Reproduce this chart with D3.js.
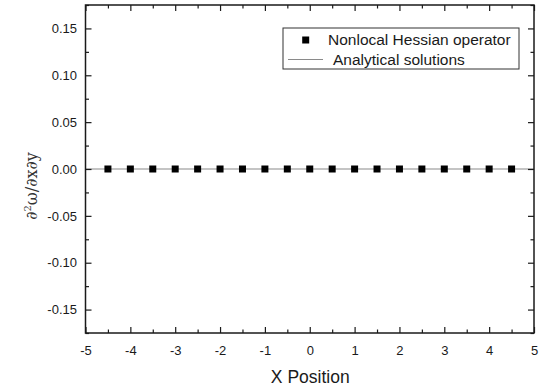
<!DOCTYPE html>
<html>
<head>
<meta charset="utf-8">
<script src="https://cdn.jsdelivr.net/npm/d3@7"></script>
<style>
  html, body { margin: 0; padding: 0; background: #fff; }
  svg { display: block; font-family: "Liberation Sans", Arial, sans-serif; }
</style>
</head>
<body>
<svg id="chart" width="543" height="389"></svg>
<script>
// Nonlocal Hessian operator results (cross derivative) at sample points
const xPositions = [-4.5, -4, -3.5, -3, -2.5, -2, -1.5, -1, -0.5, 0, 0.5, 1, 1.5, 2, 2.5, 3, 3.5, 4, 4.5];
const hessianValues = [0, 0, 0, 0, 0, 0, 0, 0, 0, 0, 0, 0, 0, 0, 0, 0, 0, 0, 0];
// Analytical solution along the line
const analyticX = [-5, 5];
const analyticY = [0, 0];
// Axis ticks
const xTicks = [-5, -4, -3, -2, -1, 0, 1, 2, 3, 4, 5];
const xMinorTicks = [-4.5, -3.5, -2.5, -1.5, -0.5, 0.5, 1.5, 2.5, 3.5, 4.5];
const yTicks = [-0.15, -0.10, -0.05, 0.00, 0.05, 0.10, 0.15];
const yMinorTicks = [-0.175, -0.125, -0.075, -0.025, 0.025, 0.075, 0.125, 0.175];
const legendLabels = ["Nonlocal Hessian operator", "Analytical solutions"];

const svg = d3.select("#chart");
const margin = { left: 85.5, right: 9, top: 5, bottom: 56 };
const W = 543, H = 389;
const x0 = margin.left, x1 = W - margin.right;
const y0 = margin.top, y1 = H - margin.bottom;

const x = d3.scaleLinear().domain([-5, 5]).range([x0, x1]);
const y = d3.scaleLinear().domain([-0.175, 0.175]).range([y1, y0]);

const axisColor = "#1a1a1a";
const tickFont = "13px";
// plain hyphen-minus for negative labels
const fmtX = d => d3.format("d")(d).replace("\u2212", "-");
const fmtY = d => d3.format(".2f")(d).replace("\u2212", "-");

// Analytical solution line
svg.append("path")
  .datum(analyticX.map((d, i) => [d, analyticY[i]]))
  .attr("fill", "none")
  .attr("stroke", "#8a8a8a")
  .attr("stroke-width", 1.2)
  .attr("d", d3.line().x(d => x(d[0])).y(d => y(d[1])));

// Numerical points
const sq = 7;
svg.append("g").selectAll("rect")
  .data(xPositions.map((d, i) => [d, hessianValues[i]]))
  .join("rect")
  .attr("x", d => x(d[0]) - sq / 2)
  .attr("y", d => y(d[1]) - sq / 2)
  .attr("width", sq)
  .attr("height", sq)
  .attr("fill", "#000");

// Axes with inward ticks on all four sides
function styleAxis(g) {
  g.select(".domain").remove();
  g.selectAll("line").attr("stroke", axisColor).attr("stroke-width", 1.2);
  g.selectAll("text").attr("fill", "#1a1a1a").style("font-size", tickFont);
}

// bottom
svg.append("g").attr("transform", `translate(0,${y1})`)
  .call(d3.axisBottom(x).tickValues(xTicks).tickSize(-6).tickPadding(13).tickFormat(fmtX))
  .call(styleAxis);
svg.append("g").attr("transform", `translate(0,${y1})`)
  .call(d3.axisBottom(x).tickValues(xMinorTicks).tickSize(-3.5).tickFormat(""))
  .call(styleAxis);
// top
svg.append("g").attr("transform", `translate(0,${y0})`)
  .call(d3.axisTop(x).tickValues(xTicks).tickSize(-6).tickFormat(""))
  .call(styleAxis);
svg.append("g").attr("transform", `translate(0,${y0})`)
  .call(d3.axisTop(x).tickValues(xMinorTicks).tickSize(-3.5).tickFormat(""))
  .call(styleAxis);
// left
svg.append("g").attr("transform", `translate(${x0},0)`)
  .call(d3.axisLeft(y).tickValues(yTicks).tickSize(-6).tickPadding(8.5).tickFormat(fmtY))
  .call(styleAxis);
svg.append("g").attr("transform", `translate(${x0},0)`)
  .call(d3.axisLeft(y).tickValues(yMinorTicks).tickSize(-3.5).tickFormat(""))
  .call(styleAxis);
// right
svg.append("g").attr("transform", `translate(${x1},0)`)
  .call(d3.axisRight(y).tickValues(yTicks).tickSize(-6).tickFormat(""))
  .call(styleAxis);
svg.append("g").attr("transform", `translate(${x1},0)`)
  .call(d3.axisRight(y).tickValues(yMinorTicks).tickSize(-3.5).tickFormat(""))
  .call(styleAxis);

// Frame
svg.append("rect")
  .attr("x", x0).attr("y", y0)
  .attr("width", x1 - x0).attr("height", y1 - y0)
  .attr("fill", "none")
  .attr("stroke", axisColor)
  .attr("stroke-width", 1.5);

// Axis titles
svg.append("text")
  .attr("x", (x0 + x1) / 2 + 0.5)
  .attr("y", 383)
  .attr("text-anchor", "middle")
  .attr("fill", "#1a1a1a")
  .style("font-size", "17.5px")
  .text("X Position");

const yTitle = svg.append("text")
  .attr("transform", "translate(37,186) rotate(-90)")
  .attr("text-anchor", "middle")
  .attr("fill", "#333")
  .style("font-size", "16px")
  .style("font-family", "'DejaVu Serif', serif");
yTitle.append("tspan").text("\u2202");
yTitle.append("tspan").attr("dy", -6).style("font-size", "10px").text("2");
yTitle.append("tspan").attr("dy", 6).text("\u03C9/\u2202x\u2202y");

// Legend
const lg = svg.append("g");
lg.append("rect")
  .attr("x", 283).attr("y", 28)
  .attr("width", 236).attr("height", 41)
  .attr("fill", "#fff")
  .attr("stroke", "#333")
  .attr("stroke-width", 1);
lg.append("rect")
  .attr("x", 305.7 - 3.5).attr("y", 40 - 3.5)
  .attr("width", sq).attr("height", sq)
  .attr("fill", "#000");
lg.append("line")
  .attr("x1", 288).attr("x2", 323)
  .attr("y1", 59.5).attr("y2", 59.5)
  .attr("stroke", "#8a8a8a")
  .attr("stroke-width", 1.2);
lg.selectAll("text.lbl")
  .data(legendLabels)
  .join("text")
  .attr("class", "lbl")
  .attr("x", (d, i) => i === 0 ? 328 : 333)
  .attr("y", (d, i) => i === 0 ? 45 : 65)
  .attr("fill", "#1a1a1a")
  .style("font-size", "15.5px")
  .text(d => d);
</script>
</body>
</html>
